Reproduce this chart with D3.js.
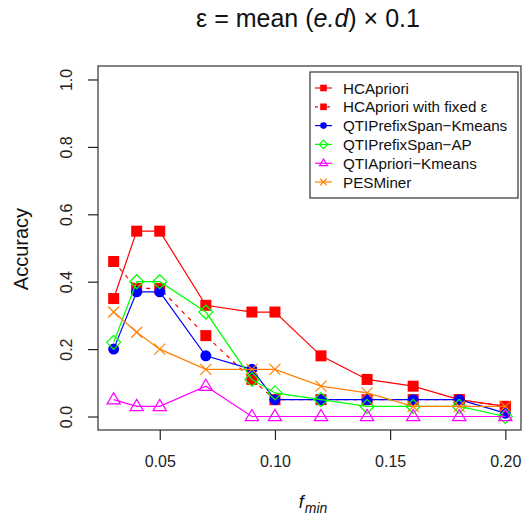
<!DOCTYPE html>
<html>
<head>
<meta charset="utf-8">
<script src="https://cdn.jsdelivr.net/npm/d3@7"></script>
<style>
  body { margin: 0; background: #fff; }
  text { font-family: "Liberation Sans", Arial, Helvetica, sans-serif; }
</style>
</head>
<body>
<div id="grafica"></div>
<script>
// accuracy vs f_min

let fmin = [0.03, 0.04, 0.05, 0.07, 0.09, 0.10, 0.12, 0.14, 0.16, 0.18, 0.20]

let hcApriori      = [0.35, 0.55, 0.55, 0.33, 0.31, 0.31, 0.18, 0.11, 0.09, 0.05, 0.03]
let hcAprioriFixed = [0.46, 0.38, 0.38, 0.24, 0.11, 0.05, 0.05, 0.05, 0.05, 0.05, 0.03]
let qtiPsKmeans    = [0.20, 0.37, 0.37, 0.18, 0.14, 0.05, 0.05, 0.05, 0.05, 0.05, 0.01]
let qtiPsAP        = [0.22, 0.40, 0.40, 0.31, 0.11, 0.07, 0.05, 0.03, 0.03, 0.03, 0.00]
let qtiApKmeans    = [0.05, 0.03, 0.03, 0.09, 0.00, 0.00, 0.00, 0.00, 0.00, 0.00, 0.00]
let pesMiner       = [0.31, 0.25, 0.20, 0.14, 0.14, 0.14, 0.09, 0.07, 0.03, 0.03, 0.03]

let xTicks = [0.05, 0.10, 0.15, 0.20]
let yTicks = [0.0, 0.2, 0.4, 0.6, 0.8, 1.0]

let series = [
    {name: "HCApriori", values: hcApriori, color: "#FF0000", dash: null, shape: "square"},
    {name: "HCApriori with fixed \u03B5", values: hcAprioriFixed, color: "#FF0000", dash: "4,5", shape: "square"},
    {name: "QTIPrefixSpan\u2212Kmeans", values: qtiPsKmeans, color: "#0000FF", dash: null, shape: "circle"},
    {name: "QTIPrefixSpan\u2212AP", values: qtiPsAP, color: "#00FF00", dash: null, shape: "diamond"},
    {name: "QTIApriori\u2212Kmeans", values: qtiApKmeans, color: "#FF00FF", dash: null, shape: "triangle"},
    {name: "PESMiner", values: pesMiner, color: "#FF8000", dash: null, shape: "cross"}
]

let width = 528
let height = 519
let padL = 98, padR = 521, padT = 66, padB = 430

const xScale = d3.scaleLinear()
    .domain([0.0232, 0.2068])
    .range([padL, padR])

const yScale = d3.scaleLinear()
    .domain([-0.04, 1.04])
    .range([padB, padT])

const svg = d3.select('#grafica')
    .append("svg")
    .attr("width", width)
    .attr("height", height)

function drawMarker(g, shape, color, cx, cy, s) {
    s = s || 1
    if (shape == "square") {
        g.append("rect").attr("x", cx - 5.5*s).attr("y", cy - 5.5*s)
            .attr("width", 11*s).attr("height", 11*s).attr("fill", color)
    } else if (shape == "circle") {
        g.append("circle").attr("cx", cx).attr("cy", cy).attr("r", 5.5*s).attr("fill", color)
    } else if (shape == "diamond") {
        let r = 7*s
        g.append("path")
            .attr("d", `M${cx},${cy-r}L${cx+r},${cy}L${cx},${cy+r}L${cx-r},${cy}Z`)
            .attr("fill", "none").attr("stroke", color).attr("stroke-width", 1.2)
    } else if (shape == "triangle") {
        let r = 7*s
        g.append("path")
            .attr("d", `M${cx},${cy-r}L${cx+r*0.95},${cy+r*0.6}L${cx-r*0.95},${cy+r*0.6}Z`)
            .attr("fill", "none").attr("stroke", color).attr("stroke-width", 1.2)
    } else if (shape == "cross") {
        let r = 5.5*s
        g.append("path")
            .attr("d", `M${cx-r},${cy-r}L${cx+r},${cy+r}M${cx-r},${cy+r}L${cx+r},${cy-r}`)
            .attr("stroke", color).attr("stroke-width", 1.2)
    }
}

// lines and points
const line = d3.line()
    .x((d, i) => xScale(fmin[i]))
    .y(d => yScale(d))

series.forEach(s => {
    const g = svg.append("g")
    g.append("path")
        .datum(s.values)
        .attr("d", line)
        .attr("fill", "none")
        .attr("stroke", s.color)
        .attr("stroke-width", 1.2)
        .attr("stroke-dasharray", s.dash)
    s.values.forEach((v, i) => drawMarker(g, s.shape, s.color, xScale(fmin[i]), yScale(v)))
})

// box
svg.append("rect")
    .attr("x", padL).attr("y", padT)
    .attr("width", padR - padL).attr("height", padB - padT)
    .attr("fill", "none").attr("stroke", "#333").attr("stroke-width", 1.2)

const xAxis = d3.axisBottom(xScale).tickValues(xTicks).tickFormat(d3.format(".2f"))
    .tickSize(10).tickPadding(16)
const yAxis = d3.axisLeft(yScale).tickValues(yTicks).tickFormat(d3.format(".1f"))
    .tickSize(10).tickPadding(8)

const gx = svg.append("g")
    .attr("transform", "translate(0," + padB + ")")
    .call(xAxis)
gx.select(".domain").remove()
gx.selectAll("line").attr("stroke", "#222").attr("stroke-width", 1.2)
gx.selectAll("text").attr("font-size", 16).attr("fill", "#222")
    .attr("font-family", "Liberation Sans, Arial, sans-serif")

const gy = svg.append("g")
    .attr("transform", "translate(" + padL + ",0)")
    .call(yAxis)
gy.select(".domain").remove()
gy.selectAll("line").attr("stroke", "#222").attr("stroke-width", 1.2)
gy.selectAll("text")
    .attr("font-size", 16).attr("fill", "#222")
    .attr("font-family", "Liberation Sans, Arial, sans-serif")
    .attr("text-anchor", "middle")
    .attr("x", null).attr("dy", null)
    .attr("transform", "translate(-32,0) rotate(-90)")
    .attr("y", 6)

// title
const title = svg.append("text")
    .attr("x", 308).attr("y", 27)
    .attr("text-anchor", "middle")
    .attr("font-size", 25)
    .attr("fill", "#111")
title.append("tspan").text("\u03B5 = mean (")
title.append("tspan").attr("font-style", "italic").text("e.d")
title.append("tspan").text(") \u00D7 0.1")

// axis labels
const xl = svg.append("text")
    .attr("x", 313).attr("y", 508)
    .attr("text-anchor", "middle")
    .attr("font-size", 18)
    .attr("font-style", "italic")
    .attr("fill", "#111")
xl.append("tspan").text("f")
xl.append("tspan").attr("font-size", 14).attr("dy", 5).attr("dx", 1).text("min")

svg.append("text")
    .attr("text-anchor", "middle")
    .attr("transform", "translate(28,249) rotate(-90)")
    .attr("font-size", 20)
    .attr("fill", "#111")
    .text("Accuracy")

// legend
const lg = svg.append("g")
lg.append("rect")
    .attr("x", 310).attr("y", 72)
    .attr("width", 208).attr("height", 126)
    .attr("fill", "#fff").attr("stroke", "#333").attr("stroke-width", 1.2)

series.forEach((s, i) => {
    let ly = 88 + i * 18.8
    lg.append("line")
        .attr("x1", 315).attr("x2", 332)
        .attr("y1", ly).attr("y2", ly)
        .attr("stroke", s.color).attr("stroke-width", 1.2)
        .attr("stroke-dasharray", s.dash ? "3,3" : null)
    drawMarker(lg, s.shape, s.color, 323.5, ly, 0.6)
    lg.append("text")
        .attr("x", 343).attr("y", ly + 5.5)
        .attr("font-size", 15.2)
        .attr("fill", "#111")
        .text(s.name)
})
</script>
</body>
</html>
